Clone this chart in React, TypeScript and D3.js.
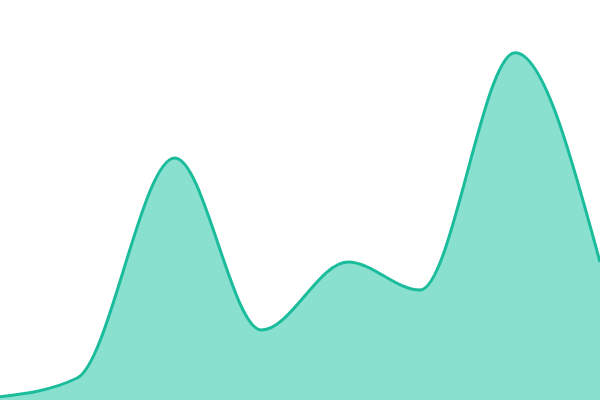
import React from "react";
import { area, curveMonotoneX, line, scaleLinear } from "d3";

const days = [0, 9, 20.4, 30.5, 40.6, 49, 60.1, 70];
const values = [0.8, 5.5, 60.5, 17.5, 34.5, 27.5, 86.8, 34.5];

const width = 600;
const height = 400;

const App: React.FC = () => {
    const xScale = scaleLinear().domain([0, 70]).range([0, width]);
    const yScale = scaleLinear().domain([0, 100]).range([height, 0]);

    const pts = days.map((d, i) => [d, values[i]] as [number, number]);

    const areaPath = area<[number, number]>()
        .x(d => xScale(d[0]))
        .y0(height)
        .y1(d => yScale(d[1]))
        .curve(curveMonotoneX)(pts);

    const linePath = line<[number, number]>()
        .x(d => xScale(d[0]))
        .y(d => yScale(d[1]))
        .curve(curveMonotoneX)(pts);

    return (
        <svg
            width={width}
            height={height}
            style={{ position: "fixed", left: 0, top: 0, display: "block" }}
        >
            <path d={areaPath || ""} fill="#8ae0cf" />
            <path d={linePath || ""} fill="none" stroke="#1abc9c" strokeWidth={3} />
        </svg>
    );
};

export default App;
